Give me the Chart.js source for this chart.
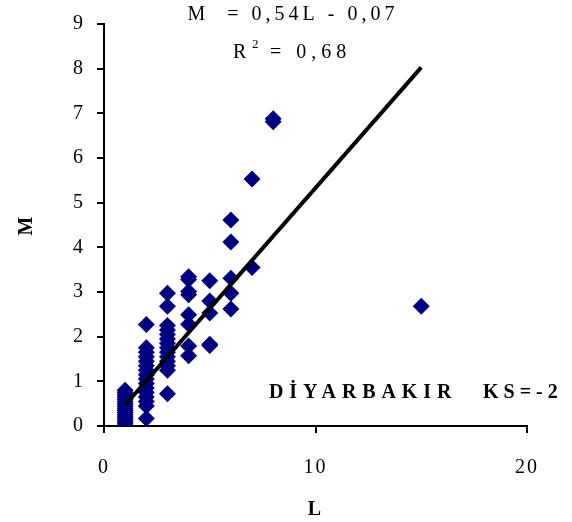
<!DOCTYPE html>
<html>
<head>
<meta charset="utf-8">
<script src="https://cdn.jsdelivr.net/npm/chart.js@4/dist/chart.umd.min.js"></script>
<style>
  html, body { margin: 0; padding: 0; background: #fff; }
  #wrap { width: 572px; height: 522px; }
</style>
</head>
<body>
<div id="wrap"><canvas id="chart" width="572" height="522"></canvas></div>
<script>
const obsL = [
  1,1,1,1,1,1,1,1,1,1,1,1,1,1,1,1,1,
  2,2,2,2,2,2,2,2,2,2,2,2,2,2,2,2,
  3,3,3,3,3,3,3,3,3,3,3,3,3,3,
  4,4,4,4,4,4,4,4,
  5,5,5,5,5,
  6,6,6,6,6,
  7,7,
  8,8,
  15
]
const obsM = [
  0.0,0.05,0.1,0.15,0.2,0.25,0.3,0.35,0.4,0.45,0.5,0.55,0.6,0.65,0.7,0.75,0.8,
  2.27,1.75,1.65,1.55,1.45,1.35,1.25,1.15,1.05,0.95,0.85,0.75,0.65,0.55,0.45,0.17,
  2.97,2.68,2.25,2.15,2.05,1.95,1.85,1.75,1.65,1.55,1.45,1.35,1.25,0.72,
  3.34,3.28,3.01,2.94,2.49,2.28,1.79,1.57,
  3.25,2.80,2.53,1.83,1.80,
  4.61,4.12,3.31,2.97,2.62,
  5.53,3.55,
  6.88,6.81,
  2.68
]

// trend line end points
const fitL = [1, 15]
const fitM = [0.47, 8.03]

const eqText = "M  = 0,54L - 0,07"
const r2Text = "0,68"
const cityText = "DİYARBAKIR"
const ksText = "KS=-2"

const serif = "'Liberation Serif', 'Times New Roman', serif"

const points = obsL.map((l, i) => ({x: l, y: obsM[i]}))
const fitPoints = fitL.map((l, i) => ({x: l, y: fitM[i]}))

const textPlugin = {
    id: 'texts',
    beforeDraw(chart){
        // spaced out digits like the original sheet
        chart.ctx.letterSpacing = '2px'
    },
    afterDraw(chart){
        const ctx = chart.ctx
        ctx.save()
        ctx.fillStyle = '#000'
        ctx.textBaseline = 'middle'
        ctx.textAlign = 'center'
        ctx.letterSpacing = '4px'
        ctx.font = "20px " + serif
        ctx.fillText(eqText, 293, 15)

        // R^2 line
        ctx.textAlign = 'left'
        ctx.letterSpacing = '0px'
        ctx.fillText("R", 233, 53)
        ctx.font = "13px " + serif
        ctx.fillText("2", 252, 45)
        ctx.font = "20px " + serif
        ctx.letterSpacing = '5px'
        ctx.fillText("= " + r2Text, 270, 53)

        ctx.font = "bold 20px " + serif
        ctx.letterSpacing = '5.9px'
        ctx.fillText(cityText, 269, 393)
        ctx.letterSpacing = '5px'
        ctx.fillText(ksText, 483, 393)
        ctx.restore()
        ctx.letterSpacing = '0px'
    }
}

new Chart(document.getElementById('chart'), {
    type: 'scatter',
    data: {
        datasets: [
            {
                data: fitPoints,
                showLine: true,
                borderColor: '#000',
                borderWidth: 4,
                pointRadius: 0,
                fill: false
            },
            {
                data: points,
                pointStyle: 'rectRot',
                pointRadius: 8.5,
                pointBackgroundColor: '#000080',
                pointBorderWidth: 0,
                borderWidth: 0
            }
        ]
    },
    options: {
        responsive: false,
        animation: false,
        layout: { padding: { left: 10, right: 45, top: 21, bottom: 0 } },
        plugins: { legend: { display: false }, tooltip: { enabled: false } },
        scales: {
            x: {
                type: 'linear',
                min: 0, max: 20,
                afterFit: (scale) => { scale.height = 96 },
                ticks: { stepSize: 10, color: '#000', padding: 23, font: { family: serif, size: 20 } },
                grid: { drawOnChartArea: false, drawTicks: true, tickLength: 7, color: '#000', lineWidth: 2 },
                border: { color: '#000', width: 2 },
                title: { display: true, text: 'L', color: '#000', padding: { top: 0, bottom: 0 },
                         font: { family: serif, size: 20, weight: 'bold' } }
            },
            y: {
                min: 0, max: 9,
                afterFit: (scale) => { scale.width = 94 },
                ticks: { stepSize: 1, color: '#000', padding: 12, font: { family: serif, size: 20 } },
                grid: { drawOnChartArea: false, drawTicks: true, tickLength: 7, color: '#000', lineWidth: 2 },
                border: { color: '#000', width: 2 },
                title: { display: true, text: 'M', color: '#000', padding: { top: 5, bottom: 0 },
                         font: { family: serif, size: 20, weight: 'bold' } }
            }
        }
    },
    plugins: [textPlugin]
})
</script>
</body>
</html>
